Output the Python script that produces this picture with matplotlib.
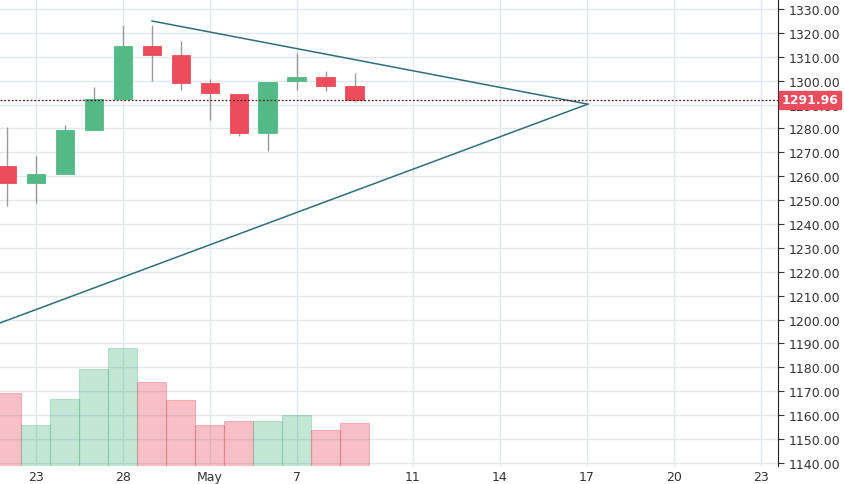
import matplotlib
matplotlib.use("Agg")
import matplotlib.pyplot as plt
from matplotlib.ticker import FixedLocator, FuncFormatter

opens  = [1264.3, 1257.2, 1261.0, 1279.3, 1292.3, 1314.5, 1310.7, 1299.0, 1294.4, 1278.1, 1299.9, 1301.5, 1297.8]
closes = [1257.2, 1261.0, 1279.3, 1292.3, 1314.5, 1310.7, 1299.0, 1294.8, 1278.1, 1299.4, 1301.5, 1297.8, 1291.96]
highs  = [1280.6, 1268.5, 1281.4, 1297.4, 1323.3, 1323.3, 1316.6, 1300.7, 1294.4, 1299.4, 1311.6, 1304.0, 1303.2]
lows   = [1247.5, 1248.8, 1261.0, 1279.3, 1292.3, 1299.9, 1296.1, 1283.5, 1276.8, 1270.6, 1296.1, 1295.7, 1291.0]
volume = [31.3, 17.9, 28.7, 41.3, 50.1, 35.9, 28.3, 17.9, 19.5, 19.5, 22.0, 15.8, 18.7]
vol_base = 1138.0
tick_pos = [1, 4, 7, 10, 14, 17, 20, 23, 26]
tick_labels = ["23", "28", "May", "7", "11", "14", "17", "20", "23"]
upper_line = ([5, 20.03], [1325.0, 1290.2])
lower_line = ([-0.24, 20.03], [1198.6, 1290.2])
last_price = 1291.96

up_c, dn_c = "#53b987", "#eb4d5c"
fig = plt.figure(figsize=(8.45, 4.85), dpi=100)
ax = fig.add_axes([0, 0.037, 0.921, 0.963])
ax.set_xlim(-0.24, 26.6)
ax.set_ylim(1138.7, 1334.2)

for i, (o, c, h, l, v) in enumerate(zip(opens, closes, highs, lows, volume)):
    col = up_c if c >= o else dn_c
    ax.bar(i, v, bottom=vol_base, width=1.0, color=col, alpha=0.35, edgecolor=col, linewidth=0.8, zorder=1)
    ax.vlines(i, l, h, color="#9a9a9a", linewidth=1, zorder=2)
    ax.bar(i, abs(c - o) if abs(c - o) > 0.5 else 0.6, bottom=min(o, c), width=0.65,
           color=col, edgecolor="#555555" if False else col, linewidth=0.6, zorder=3)

ax.plot(*upper_line, color="#2f6f7a", linewidth=1.1, zorder=4)
ax.plot(*lower_line, color="#2f6f7a", linewidth=1.1, zorder=4)
ax.axhline(last_price, color="#5a1a1a", linestyle=(0, (1.5, 1.5)), linewidth=0.9, zorder=4)

ax.set_yticks(list(range(1140, 1331, 10)))
ax.yaxis.tick_right()
ax.yaxis.set_major_formatter(FuncFormatter(lambda v, p: f"{v:.2f}"))
ax.set_xticks(tick_pos)
ax.set_xticklabels(tick_labels)
ax.tick_params(axis="both", labelsize=9, colors="#333333", length=4)
ax.tick_params(axis="x", length=0, pad=3)
ax.grid(True, color="#e3e7ee", linewidth=1)
ax.set_axisbelow(True)
for s in ["top", "left", "bottom"]:
    ax.spines[s].set_visible(False)
ax.spines["right"].set_color("#222222")
ax.text(1.004, (last_price - 1138.7) / (1334.2 - 1138.7), f"{last_price:.2f}", transform=ax.transAxes,
        ha="left", va="center", fontsize=9, color="white", fontweight="bold",
        bbox=dict(boxstyle="square,pad=0.2", fc=dn_c, ec=dn_c))
fig.savefig("out.png", dpi=100)
